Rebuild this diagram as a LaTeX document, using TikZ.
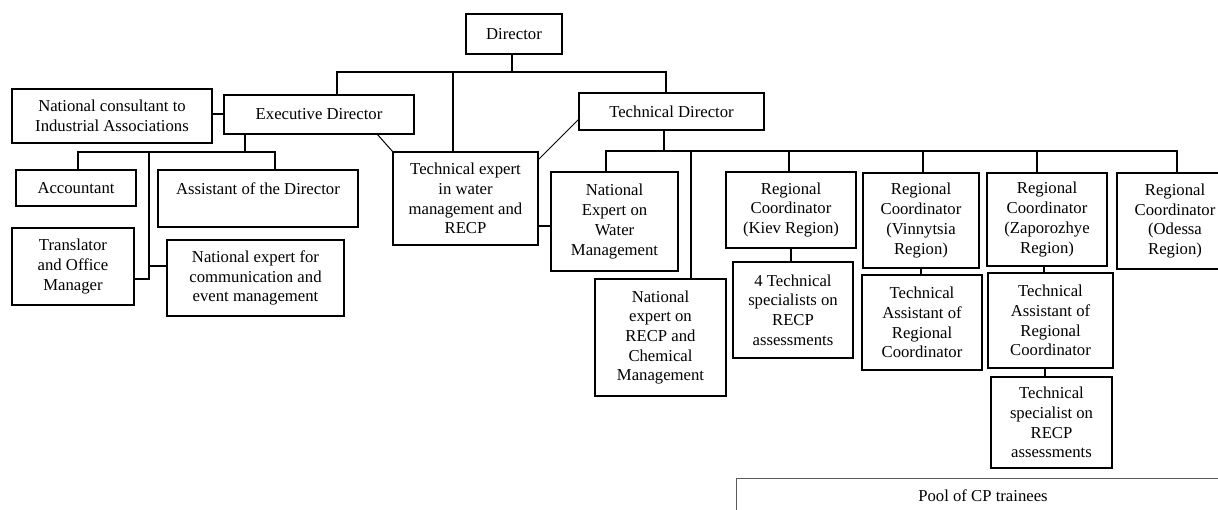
\documentclass[tikz,border=0pt]{standalone}
\usepackage{fontspec}
\setmainfont{Liberation Serif}
\usetikzlibrary{calc}
\newcommand{\orgfont}{\fontsize{16.7}{19.7}\selectfont}
\begin{document}
\begin{tikzpicture}[x=1pt,y=-1pt,
  box/.style={draw, line width=2pt, inner sep=0pt, outer sep=0pt, align=center, font=\orgfont},
  conn/.style={line width=2pt},
  thinconn/.style={line width=1pt},
  poolbox/.style={draw=black!65, line width=0.9pt, inner sep=0pt, outer sep=0pt, font=\orgfont}]
\useasboundingbox (0,0) rectangle (1218,510);
\clip (0,0) rectangle (1218,510);

% boxes
\node[box, minimum width=96, minimum height=40] (dir) at (514,34) {Director};
\node[box, minimum width=190, minimum height=39] (ed) at (319,114.5) {Executive Director};
\node[box, minimum width=200, minimum height=54] (nc) at (112,116) {National consultant to\\Industrial Associations};
\node[box, minimum width=185, minimum height=37] (td) at (671.5,111.5) {Technical Director};
\node[box, minimum width=145, minimum height=93] (te) at (465.5,198.5) {Technical expert\\in water\\management and\\RECP};
\node[box, minimum width=120, minimum height=36] (acc) at (76,188) {Accountant};
\node[box, minimum width=200, minimum height=57] (asst) at (258,198.5) {Assistant of the Director\\\mbox{}};
\node[box, minimum width=122, minimum height=77] (trans) at (73,266.5) {Translator\\and Office\\Manager};
\node[box, minimum width=177, minimum height=76] (nec) at (255.5,278) {National expert for\\communication and\\event management};
\node[box, minimum width=127, minimum height=99] (new) at (614.5,221.5) {National\\Expert on\\Water\\Management};
\node[box, minimum width=131, minimum height=117] (nerecp) at (660.5,337.5) {National\\expert on\\RECP and\\Chemical\\Management};
\node[box, minimum width=130, minimum height=76] (kiev) at (791,210) {Regional\\Coordinator\\(Kiev Region)};
\node[box, minimum width=120, minimum height=96] (kts) at (793,310) {4 Technical\\specialists on\\RECP\\assessments};
\node[box, minimum width=116, minimum height=95] (vin) at (921,220.5) {Regional\\Coordinator\\(Vinnytsia\\Region)};
\node[box, minimum width=120, minimum height=95] (vta) at (922,322.5) {Technical\\Assistant of\\Regional\\Coordinator};
\node[box, minimum width=120, minimum height=93] (zap) at (1047,219.5) {Regional\\Coordinator\\(Zaporozhye\\Region)};
\node[box, minimum width=125, minimum height=95] (zta) at (1050.5,320.5) {Technical\\Assistant of\\Regional\\Coordinator};
\node[box, minimum width=121, minimum height=91] (zts) at (1051.5,422.5) {Technical\\specialist on\\RECP\\assessments};
\node[box, minimum width=116, minimum height=96] (ode) at (1175,221) {Regional\\Coordinator\\(Odessa\\Region)};
\node[poolbox, minimum width=494, minimum height=36] (pool) at (983,496) {Pool of CP trainees};

% Director bus
\coordinate (dstem) at (512,72);
\coordinate (dL) at (337,72);
\coordinate (dM) at (453,72);
\coordinate (dR) at (666,72);
\draw[conn] (dstem |- dir.south) -- (dstem);
\draw[conn] (dL |- ed.north) -- (dL) -- (dR) -- (dR |- td.north);
\draw[conn] (dM) -- (dM |- te.north);

% National consultant to Executive Director
\draw[conn] (nc.east |- ed.west) -- (ed.west);

% Executive Director bus
\coordinate (estem) at (245,152);
\coordinate (eL) at (78,152);
\coordinate (eM) at (149,152);
\coordinate (eR) at (275,152);
\coordinate (eT) at (149,279);
\coordinate (eN) at (149,266);
\draw[conn] (estem |- ed.south) -- (estem);
\draw[conn] (eL |- acc.north) -- (eL) -- (eR) -- (eR |- asst.north);
\draw[conn] (eM) -- (eT) -- (eT -| trans.east);
\draw[conn] (eN) -- (eN -| nec.west);

% diagonal links of the technical expert
\draw[thinconn] ($(ed.south west)+(153,0)$) -- (te.north west);
\draw[thinconn] ($(te.north east)+(0,8)$) -- ($(td.west)+(0,7.5)$);
\draw[conn] ($(te.east)+(0,27.5)$) -- ($(new.west)+(0,4.5)$);

% Technical Director bus
\coordinate (tstem) at (664,151);
\coordinate (t1) at (606,151);
\coordinate (t2) at (691,151);
\coordinate (t3) at (789,151);
\coordinate (t4) at (923,151);
\coordinate (t5) at (1037,151);
\coordinate (t6) at (1177,151);
\draw[conn] (tstem |- td.south) -- (tstem);
\draw[conn] (t1 |- new.north) -- (t1) -- (t6) -- (t6 |- ode.north);
\draw[conn] (t2) -- (t2 |- nerecp.north);
\draw[conn] (t3) -- (t3 |- kiev.north);
\draw[conn] (t4) -- (t4 |- vin.north);
\draw[conn] (t5) -- (t5 |- zap.north);

% regional links
\draw[conn] (kiev.south) -- (kiev.south |- kts.north);
\draw[conn] (vin.south) -- (vin.south |- vta.north);
\coordinate (z1) at (1044,0);
\coordinate (z2) at (1045,0);
\draw[conn] (z1 |- zap.south) -- (z1 |- zta.north);
\draw[conn] (z2 |- zta.south) -- (z2 |- zts.north);
\end{tikzpicture}
\end{document}
